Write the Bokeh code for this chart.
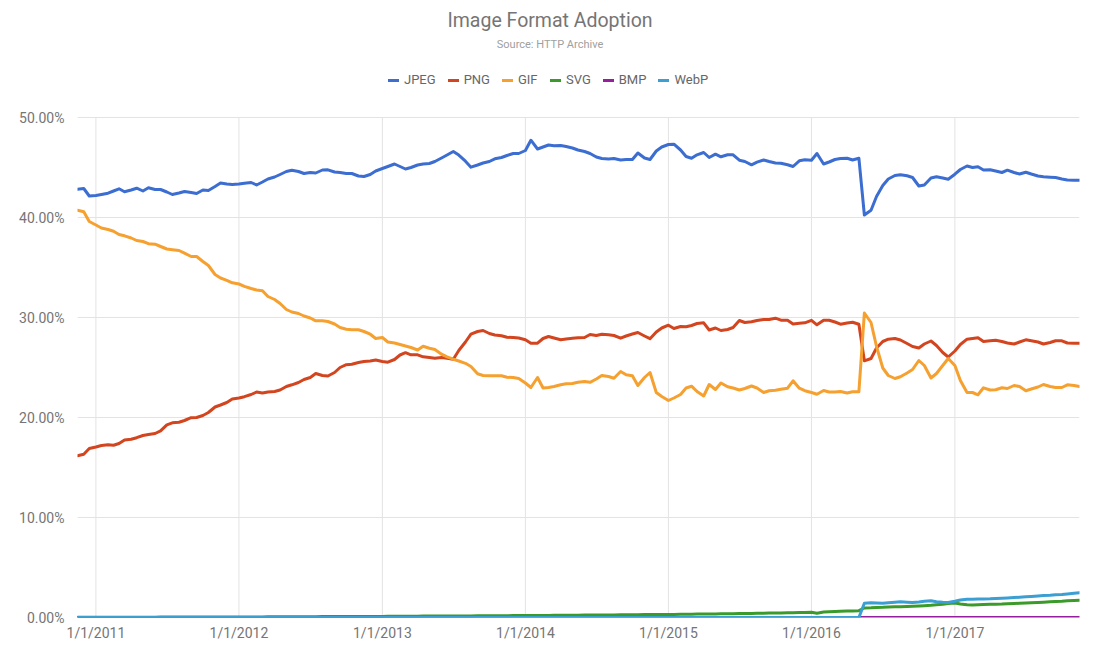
import pandas as pd
from bokeh.plotting import figure
from bokeh.models import (ColumnDataSource, Range1d, FixedTicker, PrintfTickFormatter,
                          Legend, LegendItem, Label)
from bokeh.embed import file_html
from bokeh.resources import INLINE

# Semi-monthly crawl dates (1st and 15th), 15 Nov 2010 .. 15 Nov 2017
DATES = pd.date_range("2010-11-01", "2017-11-30", freq="SMS")[1:]

JPEG = [
    42.83, 42.9, 42.15, 42.2, 42.3, 42.43, 42.65, 42.87, 42.57, 42.75,
    42.93, 42.65, 42.97, 42.8, 42.8, 42.55, 42.3, 42.45, 42.6, 42.5,
    42.4, 42.75, 42.7, 43.1, 43.45, 43.35, 43.3, 43.35, 43.43, 43.5,
    43.25, 43.55, 43.85, 44.05, 44.3, 44.6, 44.73, 44.6, 44.4, 44.5,
    44.45, 44.75, 44.77, 44.55, 44.5, 44.4, 44.4, 44.15, 44.1, 44.3,
    44.65, 44.9, 45.1, 45.35, 45.1, 44.85, 45.0, 45.25, 45.35, 45.4,
    45.6, 45.95, 46.25, 46.6, 46.24, 45.63, 45.03, 45.25, 45.45, 45.6,
    45.87, 46.0, 46.2, 46.4, 46.4, 46.7, 47.73, 46.85, 47.05, 47.25,
    47.18, 47.2, 47.1, 46.95, 46.75, 46.6, 46.4, 46.05, 45.9, 45.85,
    45.9, 45.75, 45.8, 45.8, 46.45, 45.95, 45.8, 46.65, 47.05, 47.3,
    47.33, 46.75, 46.1, 45.93, 46.27, 46.5, 46.0, 46.33, 46.07, 46.27,
    46.27, 45.73, 45.6, 45.27, 45.53,
    45.75, 45.6, 45.45, 45.43, 45.27, 45.1, 45.67, 45.77, 45.73, 46.4,
    45.35, 45.55, 45.8, 45.9, 45.93, 45.75, 45.93, 40.25, 40.73, 42.1,
    43.2, 43.85, 44.2, 44.27, 44.17, 44.0, 43.15, 43.25, 43.95, 44.07,
    43.95, 43.83, 44.33, 44.8, 45.15, 45.0, 45.07, 44.75, 44.77, 44.65,
    44.5, 44.73, 44.5, 44.35, 44.53, 44.35, 44.15, 44.07, 44.03, 44.0,
    43.85, 43.75, 43.73, 43.73,
]

PNG = [
    16.17, 16.33, 16.9, 17.05, 17.2, 17.28, 17.23, 17.4, 17.75, 17.82,
    17.98, 18.2, 18.3, 18.4, 18.67, 19.27, 19.47, 19.52, 19.7, 19.98,
    20.0, 20.2, 20.5, 21.05, 21.25, 21.5, 21.85, 21.95, 22.08, 22.3,
    22.55, 22.45, 22.55, 22.6, 22.75, 23.1, 23.27, 23.5, 23.8, 24.0,
    24.4, 24.2, 24.15, 24.5, 25.0, 25.28, 25.33, 25.5, 25.6, 25.65,
    25.75, 25.6, 25.53, 25.8, 26.25, 26.48, 26.27, 26.27, 26.07, 26.0,
    25.93, 26.0, 25.93, 25.83, 26.7, 27.55, 28.33, 28.6, 28.7, 28.4,
    28.25, 28.18, 28.02, 28.0, 27.95, 27.77, 27.43, 27.43, 27.9, 28.1,
    27.95, 27.78, 27.85, 27.92, 27.97, 28.0, 28.3, 28.2, 28.33, 28.27,
    28.2, 27.93, 28.15, 28.35, 28.5, 28.15, 27.88, 28.55, 28.95, 29.23,
    28.9, 29.1, 29.07, 29.2, 29.4, 29.47, 28.75, 28.95, 28.7, 28.8,
    29.0, 29.7, 29.5, 29.57, 29.7,
    29.8, 29.8, 29.93, 29.73, 29.73, 29.35, 29.43, 29.47, 29.72, 29.27,
    29.73, 29.73, 29.55, 29.33, 29.45, 29.53, 29.33, 25.67, 25.9, 26.95,
    27.6, 27.83, 27.9, 27.75, 27.4, 27.1, 26.95, 27.35, 27.65, 27.2,
    26.5, 26.05, 26.65, 27.3, 27.83, 27.9, 27.98, 27.6, 27.68, 27.72,
    27.6, 27.45, 27.35, 27.55, 27.77, 27.67, 27.55, 27.35, 27.5, 27.67,
    27.67, 27.45, 27.43, 27.43,
]

GIF = [
    40.73, 40.57, 39.6, 39.25, 38.95, 38.8, 38.62, 38.3, 38.17, 37.95,
    37.7, 37.6, 37.38, 37.33, 37.1, 36.85, 36.78, 36.7, 36.43, 36.1,
    36.1, 35.6, 35.2, 34.3, 33.95, 33.72, 33.47, 33.35, 33.12, 32.9,
    32.75, 32.67, 32.1, 31.8, 31.4, 30.8, 30.55, 30.4, 30.15, 29.95,
    29.67, 29.67, 29.6, 29.35, 29.0, 28.83, 28.78, 28.77, 28.6, 28.33,
    27.9, 28.0, 27.55, 27.45, 27.3, 27.15, 27.0, 26.75, 27.13, 26.93,
    26.8, 26.33, 26.07, 25.83, 25.65, 25.42, 25.1, 24.37, 24.2, 24.17,
    24.17, 24.17, 24.02, 24.0, 23.9, 23.45, 23.0, 24.0, 22.95, 23.0,
    23.1, 23.27, 23.38, 23.4, 23.53, 23.6, 23.52, 23.85, 24.2, 24.1,
    23.93, 24.6, 24.27, 24.18, 23.2, 24.0, 24.5, 22.5, 22.1, 21.7,
    21.95, 22.3, 22.95, 23.13, 22.6, 22.15, 23.3, 22.8, 23.45, 23.07,
    22.95, 22.75, 22.9, 23.15, 22.95,
    22.5, 22.67, 22.73, 22.83, 22.93, 23.67, 22.93, 22.68, 22.5, 22.33,
    22.7, 22.55, 22.55, 22.6, 22.45, 22.57, 22.57, 30.45, 29.5, 27.1,
    24.95, 24.2, 23.9, 24.07, 24.45, 24.8, 25.7, 25.2, 23.95, 24.4,
    25.2, 25.9, 25.2, 23.7, 22.5, 22.5, 22.27, 22.97, 22.75, 22.77,
    22.97, 22.9, 23.2, 23.1, 22.68, 22.85, 23.05, 23.3, 23.1, 23.0,
    23.0, 23.27, 23.2, 23.1,
]

SVG = [
    0.02, 0.02, 0.02, 0.02, 0.02, 0.03, 0.03, 0.03, 0.03, 0.03, 0.03, 0.03,
    0.03, 0.03, 0.04, 0.04, 0.04, 0.04, 0.04, 0.04, 0.05, 0.05, 0.05, 0.05,
    0.05, 0.05, 0.05, 0.06, 0.06, 0.06, 0.06, 0.06, 0.07, 0.07, 0.07, 0.07,
    0.07, 0.08, 0.08, 0.08, 0.08, 0.09, 0.09, 0.09, 0.09, 0.10, 0.10, 0.10,
    0.10, 0.11, 0.11, 0.11, 0.12, 0.12, 0.12, 0.13, 0.13, 0.13, 0.14, 0.14,
    0.14, 0.15, 0.15, 0.15, 0.16, 0.16, 0.16, 0.17, 0.17, 0.17, 0.18, 0.18,
    0.18, 0.19, 0.19, 0.20, 0.20, 0.20, 0.21, 0.21, 0.22, 0.22, 0.22, 0.23,
    0.23, 0.24, 0.24, 0.25, 0.25, 0.26, 0.26, 0.27, 0.27, 0.28, 0.28, 0.29,
    0.29, 0.30, 0.30, 0.31, 0.31, 0.32, 0.33, 0.33, 0.34, 0.35, 0.35, 0.36,
    0.37, 0.38, 0.38, 0.39, 0.40, 0.41, 0.42, 0.43, 0.44, 0.45, 0.46, 0.47,
    0.48, 0.49, 0.50, 0.52, 0.43, 0.55, 0.58, 0.60, 0.62, 0.64, 0.66, 0.68,
    0.95, 0.97, 1.00, 1.02, 1.05, 1.07, 1.08, 1.10, 1.12, 1.15, 1.18, 1.22,
    1.28, 1.33, 1.40, 1.45, 1.35, 1.27, 1.25, 1.27, 1.30, 1.32, 1.33, 1.35,
    1.38, 1.40, 1.42, 1.45, 1.47, 1.50, 1.53, 1.57, 1.60, 1.63, 1.67, 1.70,
    1.73,
]

BMP = [0.0] * 169

WEBP = [0.0] * 132 + [
    1.42, 1.47, 1.45, 1.43, 1.48, 1.53, 1.57, 1.53, 1.50, 1.55,
    1.62, 1.67, 1.58, 1.53, 1.50, 1.62, 1.75, 1.82, 1.83, 1.85,
    1.86, 1.87, 1.90, 1.93, 1.96, 2.00, 2.03, 2.07, 2.10, 2.15,
    2.20, 2.23, 2.27, 2.31, 2.36, 2.42, 2.47,
]

SERIES = ["JPEG", "PNG", "GIF", "SVG", "BMP", "WebP"]
COLORS = ["#3c6dd0", "#d2451f", "#f5a02f", "#3a9a2a", "#951f9e", "#3b9fd3"]
VALUES = [JPEG, PNG, GIF, SVG, BMP, WEBP]

X_TICK_LABELS = ["1/1/2011", "1/1/2012", "1/1/2013", "1/1/2014",
                 "1/1/2015", "1/1/2016", "1/1/2017"]
Y_TICKS = [0, 10, 20, 30, 40, 50]

TITLE = "Image Format Adoption"
SUBTITLE = "Source: HTTP Archive"

FONT = "Roboto"
GRID = "#e3e3e3"
TEXT = "#757575"

data = {"date": DATES}
for name, vals in zip(SERIES, VALUES):
    data[name] = vals
src = ColumnDataSource(data)

W, H = 1099, 660
LEFT, RIGHT, BOTTOM = 77, 20, 43
FRAME_H = H - BOTTOM          # frame spans the full height above the x axis
PX_PER_UNIT = 10.0            # 10 px per percentage point
p = figure(width=W, height=H, output_backend="svg", toolbar_location=None,
           x_range=Range1d(DATES[0], DATES[-1]),
           y_range=Range1d(0, FRAME_H / PX_PER_UNIT),
           min_border_left=LEFT, min_border_right=RIGHT, min_border_bottom=BOTTOM,
           min_border_top=0, title=None)
p.outline_line_color = None
p.background_fill_color = "white"
p.border_fill_color = "white"

tick_dates = pd.to_datetime(X_TICK_LABELS, format="%m/%d/%Y")
tick_ms = [float(t.value // 10**6) for t in tick_dates]

# vertical grid lines limited to the 0..50 % band
p.xgrid.visible = False
p.segment(x0=tick_ms, x1=tick_ms, y0=[Y_TICKS[0]] * len(tick_ms),
          y1=[Y_TICKS[-1]] * len(tick_ms), line_color=GRID, line_width=1)

renderers = []
for name, color in zip(SERIES, COLORS):
    r = p.line("date", name, source=src, line_color=color, line_width=3,
               line_join="round", line_cap="round")
    renderers.append(r)

xticker = FixedTicker(ticks=tick_ms)
p.xaxis.ticker = xticker
p.xaxis.major_label_overrides = {ms: lab for ms, lab in zip(tick_ms, X_TICK_LABELS)}

yticker = FixedTicker(ticks=Y_TICKS)
p.yaxis.ticker = yticker
p.yaxis.formatter = PrintfTickFormatter(format="%.2f%%")
p.ygrid.ticker = yticker
p.ygrid.grid_line_color = GRID
p.ygrid.grid_line_width = 1

for ax in (p.xaxis, p.yaxis):
    ax.axis_line_color = None
    ax.major_tick_line_color = None
    ax.minor_tick_line_color = None
    ax.major_label_text_font = FONT
    ax.major_label_text_font_size = "14px"
    ax.major_label_text_color = TEXT
p.yaxis.major_label_standoff = 7
p.xaxis.major_label_standoff = 1

legend = Legend(items=[LegendItem(label=n, renderers=[r]) for n, r in zip(SERIES, renderers)],
                orientation="horizontal", location=(311, FRAME_H - 87),
                glyph_width=11, glyph_height=10, label_standoff=5, spacing=12,
                label_text_font=FONT, label_text_font_size="13px",
                label_text_color="#666666", border_line_color=None,
                background_fill_alpha=0, padding=0, margin=0)
legend.label_height = 14
p.add_layout(legend, "center")

CX = W / 2 - LEFT
p.add_layout(Label(x=CX, y=FRAME_H - 20, x_units="screen", y_units="screen",
                   text=TITLE, text_align="center", text_baseline="middle",
                   text_font=FONT, text_font_size="19.5px", text_color=TEXT))
p.add_layout(Label(x=CX, y=FRAME_H - 44, x_units="screen", y_units="screen",
                   text=SUBTITLE, text_align="center", text_baseline="middle",
                   text_font=FONT, text_font_size="11px", text_color="#a0a0a0"))

open("out.html", "w").write(file_html(p, INLINE))
